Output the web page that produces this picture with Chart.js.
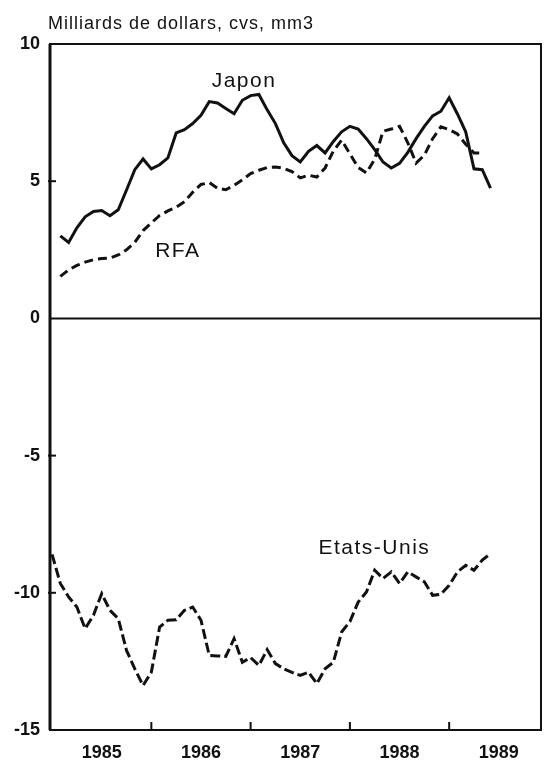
<!DOCTYPE html>
<html><head><meta charset="utf-8">
<script src="https://cdn.jsdelivr.net/npm/chart.js@4/dist/chart.umd.min.js"></script>
<style>html,body{margin:0;padding:0;background:#fff;}#wrap{width:544px;height:762px;position:relative;}</style>
</head><body><div id="wrap"><canvas id="c" width="544" height="762"></canvas></div>
<script>
// Month index from January 1985 (0) to June 1989 (53)
const months = [0,1,2,3,4,5,6,7,8,9,10,11,12,13,14,15,16,17,18,19,20,21,22,23,24,25,26,27,28,29,30,31,32,33,34,35,36,37,38,39,40,41,42,43,44,45,46,47,48,49,50,51,52,53];
const yearLabels = ['1985','1986','1987','1988','1989'];
const yearMidMonths = [6,18,30,42,54];
const yearStartMonths = [12,24,36,48];
const yTickValues = [-15,-10,-5,0,5,10];

const japon = [null,3.01,2.77,3.3,3.7,3.9,3.93,3.74,3.96,4.68,5.42,
  5.81,5.45,5.6,5.85,6.76,6.88,7.1,7.4,7.9,7.85,
  7.65,7.46,7.95,8.12,8.16,7.6,7.1,6.4,5.93,5.7,
  6.09,6.3,6.03,6.45,6.8,7.0,6.9,6.55,6.15,5.7,
  5.48,5.65,6.05,6.55,7.0,7.38,7.55,8.04,7.45,6.8,
  5.45,5.42,4.75];
const rfa = [null,1.53,1.77,1.93,2.05,2.14,2.18,2.2,2.31,2.5,2.77,
  3.2,3.48,3.75,3.92,4.05,4.25,4.6,4.88,4.95,4.74,
  4.69,4.85,5.05,5.28,5.4,5.5,5.52,5.47,5.35,5.12,
  5.22,5.15,5.48,6.1,6.5,6.0,5.5,5.3,5.8,6.82,
  6.9,7.0,6.4,5.66,5.95,6.55,6.98,6.88,6.72,6.35,
  6.03,6.03,null];
const etatsUnis = [-8.6,-9.66,-10.15,-10.52,-11.31,-10.82,-10.03,-10.64,-10.94,-12.1,
  -12.77,-13.38,-12.89,-11.25,-11.0,-10.98,-10.64,-10.52,-11.0,-12.28,
  -12.3,-12.32,-11.67,-12.53,-12.36,-12.65,-12.07,-12.58,-12.77,-12.9,
  -13.01,-12.89,-13.31,-12.77,-12.53,-11.43,-11.05,-10.34,-9.97,-9.18,
  -9.48,-9.24,-9.66,-9.24,-9.42,-9.6,-10.09,-10.05,-9.73,-9.24,
  -9.0,-9.18,-8.81,-8.57];

const toXY = arr => months.map((m,i)=>({x:m,y:arr[i]}));
const FONT = '"Liberation Sans", Arial, Helvetica, sans-serif';

const framePlugin = {
  id:'frame',
  afterDraw(chart){
    const {ctx, chartArea:a, scales:{x,y}} = chart;
    ctx.save();
    ctx.strokeStyle='#111'; ctx.lineWidth=2;
    ctx.strokeRect(a.left, a.top, a.right-a.left, a.bottom-a.top);
    ctx.lineWidth=3;
    ctx.beginPath(); ctx.moveTo(a.left,a.top); ctx.lineTo(a.left,a.bottom); ctx.stroke();
    ctx.lineWidth=2;
    const y0 = y.getPixelForValue(0);
    ctx.beginPath(); ctx.moveTo(a.left,y0); ctx.lineTo(a.right,y0); ctx.stroke();
    [-10,-5,5].forEach(v=>{const p=y.getPixelForValue(v);ctx.beginPath();ctx.moveTo(a.left-2,p);ctx.lineTo(a.left+6,p);ctx.stroke();});
    yearStartMonths.forEach(v=>{const p=x.getPixelForValue(v);ctx.beginPath();ctx.moveTo(p,a.bottom);ctx.lineTo(p,a.bottom-8);ctx.stroke();});
    ctx.fillStyle='#111';
    ctx.textBaseline='alphabetic';
    ctx.font='18px '+FONT; ctx.letterSpacing='1px'; ctx.textAlign='left';
    ctx.fillText('Milliards de dollars, cvs, mm3', 48, 29);
    ctx.font='21px '+FONT; ctx.letterSpacing='1.5px';
    ctx.textAlign='center';
    ctx.fillText('Japon', x.getPixelForValue(23.2), y.getPixelForValue(8.42));
    ctx.fillText('RFA', x.getPixelForValue(15.2), y.getPixelForValue(2.25));
    ctx.textAlign='left';
    ctx.fillText('Etats-Unis', x.getPixelForValue(32.2), y.getPixelForValue(-8.59));
    ctx.restore();
  }
};

new Chart(document.getElementById('c'), {
  type:'line',
  data:{datasets:[
    {label:'Japon', data:toXY(japon), borderColor:'#111', borderWidth:3, pointRadius:0, tension:0, fill:false},
    {label:'RFA', data:toXY(rfa), borderColor:'#111', borderWidth:3, borderDash:[9,5], pointRadius:0, tension:0, fill:false},
    {label:'Etats-Unis', data:toXY(etatsUnis), borderColor:'#111', borderWidth:3, borderDash:[10,4], pointRadius:0, tension:0, fill:false}
  ]},
  options:{
    responsive:false, animation:false, devicePixelRatio:1,
    layout:{padding:{top:44,right:3,left:0,bottom:0}},
    plugins:{legend:{display:false}, tooltip:{enabled:false}, title:{display:false}},
    scales:{
      x:{type:'linear', min:-0.25, max:59.1,
        grid:{display:false, drawTicks:false}, border:{display:false},
        afterBuildTicks:s=>{s.ticks = yearMidMonths.map(v=>({value:v}));},
        afterFit:s=>{s.height=32;},
        ticks:{autoSkip:false, maxRotation:0, padding:12, color:'#111',
          font:{family:FONT, weight:'bold', size:18},
          callback:(v,i)=>yearLabels[i]}
      },
      y:{type:'linear', min:-15, max:10,
        grid:{display:false, drawTicks:false}, border:{display:false},
        afterBuildTicks:s=>{s.ticks = yTickValues.map(v=>({value:v}));},
        afterFit:s=>{s.width=50;},
        ticks:{padding:10, color:'#111', font:{family:FONT, weight:'bold', size:18},
          callback:v=>String(v)}
      }
    }
  },
  plugins:[framePlugin]
});
</script></body></html>
